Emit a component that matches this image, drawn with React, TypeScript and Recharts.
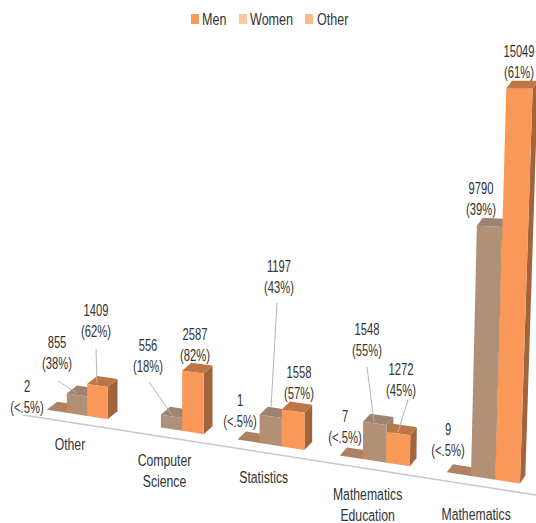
import { Bar, BarChart, XAxis, YAxis } from "recharts";

const categories = ["Other", "Computer Science", "Statistics", "Mathematics Education", "Mathematics"];
const firstValues = [2, null, 1, 7, 9];
const secondValues = [855, 556, 1197, 1548, 9790];
const thirdValues = [1409, 2587, 1558, 1272, 15049];
const firstShares = ["(<.5%)", "", "(<.5%)", "(<.5%)", "(<.5%)"];
const secondShares = ["(38%)", "(18%)", "(43%)", "(55%)", "(39%)"];
const thirdShares = ["(62%)", "(82%)", "(57%)", "(45%)", "(61%)"];
const legendItems = [
  { name: "Men", color: "#F99A5B", x: 191, textX: 202 },
  { name: "Women", color: "#FFC8A3", x: 239, textX: 250 },
  { name: "Other", color: "#FFB98A", x: 305, textX: 317 },
];

const chartData = categories.map((name, i) => ({
  name,
  first: firstValues[i],
  second: secondValues[i],
  third: thirdValues[i],
}));

// hand placed data labels: [text x, first line y, leader x1, y1, x2, y2]
type Place = number[];
const firstPlaces: Place[] = [[27, 386], [], [240, 400], [345, 416], [448, 429]];
const secondPlaces: Place[] = [
  [57, 342, 58, 381, 77, 393],
  [148, 345, 149, 382, 172, 415],
  [279, 266, 277, 303, 271, 408],
  [367, 329, 367, 367, 374, 422],
  [481, 188],
];
const thirdPlaces: Place[] = [
  [96, 310, 96, 349, 97, 383],
  [195, 334],
  [299, 372],
  [401, 369, 408, 400, 398, 432],
  [519, 51],
];

const FONT = '"Liberation Sans Narrow", "Liberation Sans", sans-serif';
const INK = "#333333";

// the picture is a perspective view, so the library's flat bar boxes get projected
const fx = (u: number) => 31.4 + 0.899 * u + 2.33e-4 * u * u;
const base = (X: number) => 416 + 0.156 * (X - 87);
const depth = (X: number) => 10.5 - 0.011 * (X - 50);
const lean = (X: number, h: number) => Math.max(0, X - 340) * 1.8e-4 * h;
const stretch = (X: number) => 0.91 + 0.0002 * (X - 87) + Math.max(0, X - 400) * 0.0005;

const pts = (list: number[][]) => list.map((p) => p.join(",")).join(" ");

function corners(x: number, width: number, height: number) {
  const X0 = fx(x);
  const X1 = fx(x + width);
  const h = height * stretch(X0);
  const bl = [X0, base(X0)];
  const br = [X1, base(X1)];
  const tl = [X0 + lean(X0, h), base(X0) - h];
  const tr = [X1 + lean(X1, h), base(X0) - h + 0.156 * (X1 - X0) * (1 - Math.min(1, h / 400))];
  const backL = [tl[0] + depth(X0), tl[1] - 8];
  const backR = [tr[0] + depth(X1), tr[1] - 8];
  const backB = [br[0] + depth(X1), br[1] - 8];
  return { X0, X1, bl, br, tl, tr, backL, backR, backB };
}

function SmallText({ x, y, sx = 0.66, anchor = "middle", children }: { x: number; y: number; sx?: number; anchor?: string; children: string }) {
  return (
    <text
      transform={`translate(${x},${y}) scale(${sx},1)`}
      textAnchor={anchor}
      dominantBaseline="central"
      fontFamily={FONT}
      fontSize={17}
      fill={INK}
    >
      {children}
    </text>
  );
}

function DataLabel({ place, value, share }: { place: Place; value: number; share: string }) {
  if (!place.length) return null;
  return (
    <g>
      {place.length > 2 && (
        <line x1={place[2]} y1={place[3]} x2={place[4]} y2={place[5]} stroke="#b5b5b5" strokeWidth={1} />
      )}
      <SmallText x={place[0]} y={place[1]}>{String(value)}</SmallText>
      <SmallText x={place[0]} y={place[1] + 21}>{share}</SmallText>
    </g>
  );
}

// recharts drops null rows, so the shape's own index can't be trusted here
const rowOf = (props: any) => categories.indexOf(props.payload?.name ?? props.name);

function FlatShape(props: any) {
  const { x, width } = props;
  const row = rowOf(props);
  const value = firstValues[row];
  if (value == null) return null;
  const c = corners(x, width, 0);
  return (
    <g>
      <polygon points={pts([c.tl, c.tr, c.backR, c.backL])} fill="#AE8064" />
      <DataLabel place={firstPlaces[row]} value={value} share={firstShares[row]} />
    </g>
  );
}

function makeBlock(front: string, top: string, side: string, values: number[], shares: string[], places: Place[], foot: boolean) {
  return function BlockShape(props: any) {
    const { x, width, height } = props;
    const row = rowOf(props);
    const c = corners(x, width, height);
    // the flat neighbour's tip shows through on top of the block
    const prev = corners(x - width, width, 0);
    return (
      <g>
        <polygon points={pts([c.br, c.tr, c.backR, c.backB])} fill={side} />
        <polygon points={pts([c.tl, c.tr, c.backR, c.backL])} fill={top} />
        <polygon points={pts([c.bl, c.br, c.tr, c.tl])} fill={front} />
        {foot && firstValues[row] != null && (
          <polygon points={pts([prev.br, prev.backR, [c.X0, prev.backR[1]]])} fill="#C8875B" />
        )}
        <DataLabel place={places[row]} value={values[row]} share={shares[row]} />
      </g>
    );
  };
}

const SecondShape = makeBlock("#B09178", "#9E8272", "#9A7D6B", secondValues, secondShares, secondPlaces, true);
const ThirdShape = makeBlock("#F99858", "#C07546", "#A3633B", thirdValues, thirdShares, thirdPlaces, false);

function CategoryTick(props: any) {
  const { x, payload, index } = props;
  const X = fx(x) - 7;
  const y = 415 + 0.156 * (X - 23) + 22 + (X - 69) * 0.015;
  const words = String(payload.value).split(" ");
  return (
    <g>
      {words.map((w, i) => (
        <SmallText key={w + index} x={X} y={y + i * 21 - (words.length > 1 && index === 3 ? 1 : 0)} sx={0.72}>{w}</SmallText>
      ))}
    </g>
  );
}

export default function App() {
  return (
    <div style={{ position: "absolute", left: 0, top: 0, width: 536, height: 523 }}>
      <BarChart
        width={536}
        height={523}
        data={chartData}
        margin={{ top: 93, right: 36, bottom: 0, left: 0 }}
        barSize={22}
        barGap={0}
      >
        <XAxis
          dataKey="name"
          height={30}
          interval={0}
          axisLine={false}
          tickLine={false}
          tick={<CategoryTick />}
        />
        <YAxis hide domain={[0, 16000]} />
        <line x1={23} y1={415} x2={536} y2={495} stroke="#c8c8c8" strokeWidth={1.5} />
        {legendItems.map((item) => (
          <g key={item.name}>
            <rect x={item.x} y={14} width={8} height={10} fill={item.color} />
            <SmallText x={item.textX} y={19} sx={0.74} anchor="start">{item.name}</SmallText>
          </g>
        ))}
        <Bar dataKey="first" isAnimationActive={false} shape={<FlatShape />} />
        <Bar dataKey="second" isAnimationActive={false} shape={<SecondShape />} />
        <Bar dataKey="third" isAnimationActive={false} shape={<ThirdShape />} />
      </BarChart>
    </div>
  );
}
